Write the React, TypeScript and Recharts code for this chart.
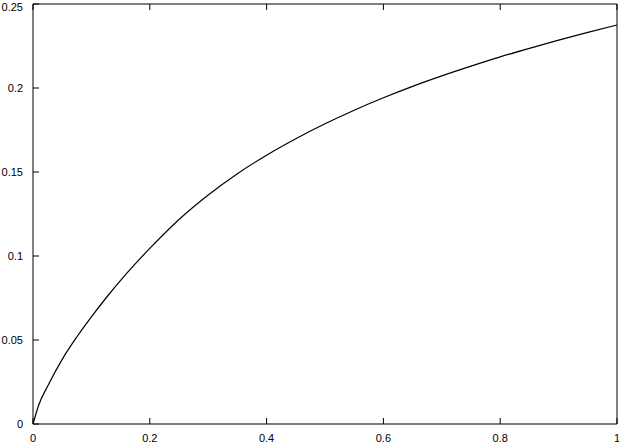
import React from 'react';
import { LineChart, Line, XAxis, YAxis } from 'recharts';

const xValues = [0, 0.01, 0.025, 0.05, 0.075, 0.1, 0.125, 0.15, 0.175, 0.2, 0.25, 0.3, 0.35, 0.4, 0.45, 0.5, 0.55, 0.6, 0.65, 0.7, 0.75, 0.8, 0.85, 0.9, 0.95, 1.0];
const yValues = [0, 0.0115, 0.0225, 0.0385, 0.0518, 0.0638, 0.075, 0.0855, 0.0953, 0.1045, 0.1217, 0.1363, 0.149, 0.16, 0.1698, 0.1787, 0.1868, 0.1942, 0.201, 0.2072, 0.213, 0.2185, 0.2236, 0.2285, 0.2331, 0.2375];
const xTicks = [0, 0.2, 0.4, 0.6, 0.8, 1];
const yTicks = [0, 0.05, 0.1, 0.15, 0.2, 0.25];

const data = xValues.map((x, i) => ({ x, y: yValues[i] }));

const FONT = '"Liberation Sans", Arial, sans-serif';
const TICK = 6;
const axisLine = { stroke: '#000', strokeWidth: 1 };

const fmt = (v: number) => String(v);

const BottomTick = (props: any) => {
  const { x, y, payload } = props;
  return (
    <g>
      <line x1={x} y1={y} x2={x} y2={y - TICK} stroke="#000" strokeWidth={1} />
      <text x={x} y={y + 18} textAnchor="middle" fontFamily={FONT} fontSize={11} fill="#000">
        {fmt(payload.value)}
      </text>
    </g>
  );
};

const TopTick = (props: any) => {
  const { x, y } = props;
  return <line x1={x} y1={y} x2={x} y2={y + TICK} stroke="#000" strokeWidth={1} />;
};

const LeftTick = (props: any) => {
  const { x, y, payload } = props;
  return (
    <g>
      <line x1={x} y1={y} x2={x + TICK} y2={y} stroke="#000" strokeWidth={1} />
      <text x={x - 10} y={Math.max(y + 4, 11)} textAnchor="end" fontFamily={FONT} fontSize={11} fill="#000">
        {fmt(payload.value)}
      </text>
    </g>
  );
};

const RightTick = (props: any) => {
  const { x, y } = props;
  return <line x1={x} y1={y} x2={x - TICK} y2={y} stroke="#000" strokeWidth={1} />;
};

export default function App() {
  return (
    <div style={{ position: 'absolute', left: 0, top: 0, width: 619, height: 443, background: '#fff' }}>
      <LineChart width={619} height={443} data={data} margin={{ top: 3, right: 1, bottom: 0, left: 0 }}>
        <XAxis
          xAxisId="bottom"
          dataKey="x"
          type="number"
          domain={[0, 1]}
          ticks={xTicks}
          interval={0}
          height={19}
          tickSize={0}
          tickMargin={0}
          axisLine={axisLine}
          tickLine={false}
          tick={<BottomTick />}
        />
        <XAxis
          xAxisId="top"
          orientation="top"
          dataKey="x"
          type="number"
          domain={[0, 1]}
          ticks={xTicks}
          interval={0}
          height={1}
          tickSize={0}
          tickMargin={0}
          axisLine={axisLine}
          tickLine={false}
          tick={<TopTick />}
        />
        <YAxis
          yAxisId="left"
          type="number"
          domain={[0, 0.25]}
          ticks={yTicks}
          interval={0}
          width={33}
          tickSize={0}
          tickMargin={0}
          axisLine={axisLine}
          tickLine={false}
          tick={<LeftTick />}
        />
        <YAxis
          yAxisId="right"
          orientation="right"
          type="number"
          domain={[0, 0.25]}
          ticks={yTicks}
          interval={0}
          width={1}
          tickSize={0}
          tickMargin={0}
          axisLine={axisLine}
          tickLine={false}
          tick={<RightTick />}
        />
        <Line
          xAxisId="bottom"
          yAxisId="left"
          dataKey="y"
          type="monotone"
          stroke="#000"
          strokeWidth={1.2}
          dot={false}
          isAnimationActive={false}
        />
      </LineChart>
    </div>
  );
}
